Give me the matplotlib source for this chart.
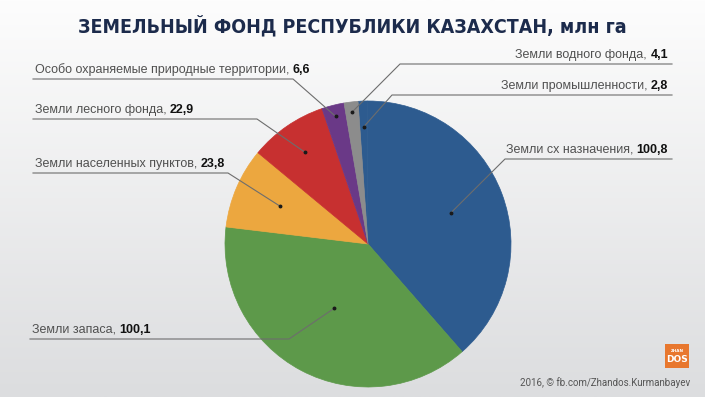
import numpy as np
import matplotlib
matplotlib.use("Agg")
import matplotlib.pyplot as plt
from matplotlib.lines import Line2D
from matplotlib.colors import LinearSegmentedColormap

# ── data ─────────────────────────────────────────────────────────────────────
TITLE = "ЗЕМЕЛЬНЫЙ ФОНД РЕСПУБЛИКИ КАЗАХСТАН, млн га"
FOOTER = "2016, © fb.com/Zhandos.Kurmanbayev"

# clockwise from the top
categories = [
    "Земли промышленности",
    "Земли сх назначения",
    "Земли запаса",
    "Земли населенных пунктов",
    "Земли лесного фонда",
    "Особо охраняемые природные территории",
    "Земли водного фонда",
]
values = [2.8, 100.8, 100.1, 23.8, 22.9, 6.6, 4.1]
value_labels = ["2,8", "100,8", "100,1", "23,8", "22,9", "6,6", "4,1"]

colors = ["#2d5b8f", "#2d5b8f", "#5d994a", "#eca73f", "#c73030", "#6a3987", "#8c8c8c"]

# label layout (pixels from top-left): text anchor x, underline y, elbow x,
# side, radius fraction of the dot inside the wedge
W, H = 705, 397
label_layout = [
    dict(x=672, y=95, x0=392, side="right", r=0.82),
    dict(x=672, y=159, x0=505, side="right", r=0.62),
    dict(x=30, y=339, x0=289, side="left", r=0.51),
    dict(x=33, y=173, x0=228, side="left", r=0.67),
    dict(x=33, y=119, x0=257, side="left", r=0.78),
    dict(x=33, y=79, x0=293, side="left", r=0.92),
    dict(x=672, y=64, x0=400, side="right", r=0.93),
]

LABEL_FONT = ["Liberation Sans", "DejaVu Sans"]
LABEL_SIZE = 9


def fx(px):
    return px / W


def fy(py):
    return 1 - py / H


fig = plt.figure(figsize=(W / 100, H / 100), dpi=100)

# background gradient
bg = fig.add_axes([0, 0, 1, 1])
grad = np.linspace(0, 1, 256).reshape(-1, 1)
cmap = LinearSegmentedColormap.from_list("bg", ["#fdfdfd", "#dcdddf"])
bg.imshow(grad, aspect="auto", cmap=cmap, extent=[0, 1, 0, 1], origin="upper")
bg.set_axis_off()

# pie
cx, cy, R = 368, 244, 143
ax = fig.add_axes([fx(cx - R), fy(cy + R), 2 * R / W, 2 * R / H])
wedges, _ = ax.pie(values, colors=colors, startangle=94, counterclock=False)
for w in wedges:
    w.set_edgecolor(w.get_facecolor())
    w.set_linewidth(0.5)
ax.set_xlim(-1, 1)
ax.set_ylim(-1, 1)
ax.set_aspect("auto")
ax.set_axis_off()

fig.text(0.5, fy(26), TITLE, ha="center", va="center", fontsize=14,
         fontweight="bold", fontstretch="condensed", color="#1c2b4c",
         family=["DejaVu Sans"])

fig.canvas.draw()
for w, cat, val, lay in zip(wedges, categories, value_labels, label_layout):
    ang = np.deg2rad((w.theta1 + w.theta2) / 2)
    dx, dy = ax.transData.transform((lay["r"] * np.cos(ang), lay["r"] * np.sin(ang)))
    dot = (dx / W, dy / H)
    uy = fy(lay["y"])
    xs = [fx(lay["x"]), fx(lay["x0"]), dot[0]]
    if lay["side"] == "left":
        t1 = fig.text(fx(lay["x"] + 2), uy + 3 / H, cat + ", ", ha="left", va="bottom",
                      fontsize=LABEL_SIZE, color="#505050", family=LABEL_FONT)
        fig.canvas.draw()
        bb = t1.get_window_extent()
        fig.text(bb.x1 / W, bb.y0 / H, val, ha="left", va="bottom",
                 fontsize=LABEL_SIZE, fontweight="bold", color="#111111",
                 family=LABEL_FONT)
    else:
        t2 = fig.text(fx(lay["x"] - 4), uy + 3 / H, val, ha="right", va="bottom",
                      fontsize=LABEL_SIZE, fontweight="bold", color="#111111",
                      family=LABEL_FONT)
        fig.canvas.draw()
        bb = t2.get_window_extent()
        fig.text(bb.x0 / W, bb.y0 / H, cat + ", ", ha="right", va="bottom",
                 fontsize=LABEL_SIZE, color="#505050", family=LABEL_FONT)
    ys = [uy, uy, dot[1]]
    fig.add_artist(Line2D(xs, ys, transform=fig.transFigure, color="#6d6d6d", lw=0.8))
    fig.add_artist(Line2D([dot[0]], [dot[1]], transform=fig.transFigure, marker="o",
                          ms=1.8, color="#1a1a1a", lw=0))

# footer and logo
fig.text(fx(690), fy(383), FOOTER, ha="right", va="center", fontsize=7,
         color="#555555", family=["Roboto", "DejaVu Sans"])
logo = fig.add_axes([fx(665), fy(368), 24 / W, 24 / H])
logo.set_facecolor("#e8772e")
logo.set_xticks([])
logo.set_yticks([])
for s in logo.spines.values():
    s.set_visible(False)
logo.text(0.5, 0.7, "ZHAN", ha="center", va="center", fontsize=3,
          fontweight="bold", color="white", transform=logo.transAxes)
logo.text(0.5, 0.35, "DOS", ha="center", va="center", fontsize=6.5,
          fontweight="bold", color="white", transform=logo.transAxes)

fig.savefig("out.png", dpi=100)
